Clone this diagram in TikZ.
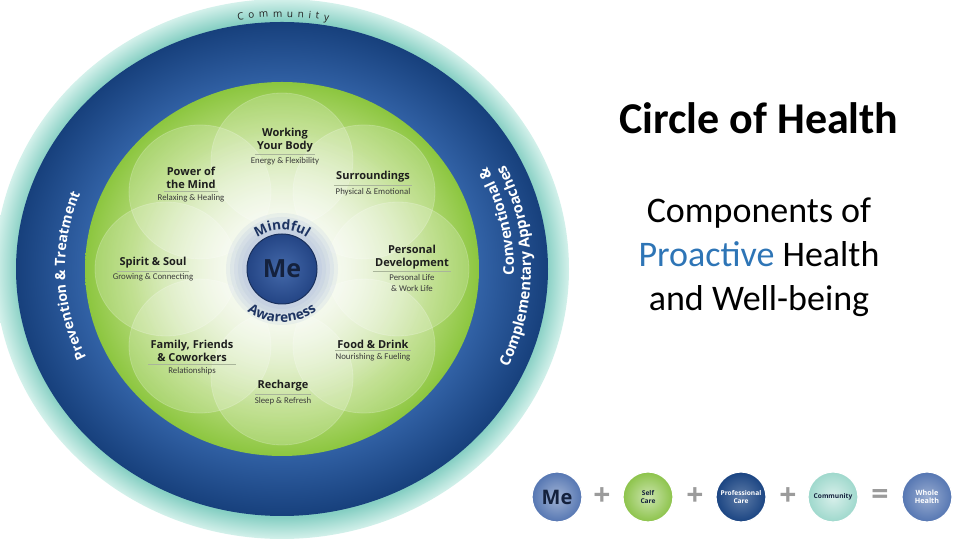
\documentclass[tikz,border=0pt]{standalone}
\usepackage{fontspec}
\setmainfont{Open Sans}
\newfontfamily\calib{Carlito}
\usepackage{xcolor}
\usepackage{tikz}
\usetikzlibrary{positioning,decorations.text,fadings}
\definecolor{commin}{HTML}{86CFC3}
\definecolor{commout}{HTML}{D4F1EB}
\definecolor{ringin}{HTML}{3262A6}
\definecolor{ringout}{HTML}{17407C}
\definecolor{limec}{HTML}{8CC63F}
\definecolor{limem}{HTML}{B3D978}
\definecolor{limel}{HTML}{E2EFCC}
\definecolor{glowc}{HTML}{F2F7EA}
\definecolor{haloc}{HTML}{9FB3D8}
\definecolor{mec}{HTML}{244585}
\definecolor{mel}{HTML}{4469AA}
\definecolor{inkc}{HTML}{14213D}
\definecolor{navyc}{HTML}{1E3462}
\definecolor{headc}{HTML}{1E1E1E}
\definecolor{subc}{HTML}{3B3B3B}
\definecolor{sepc}{HTML}{A9B59A}
\definecolor{comtxt}{HTML}{222222}
\definecolor{proc}{HTML}{2E75B6}
\definecolor{opc}{HTML}{9B9B9B}
\definecolor{slatec}{HTML}{5576B2}
\definecolor{selfc}{HTML}{8CC34A}
\definecolor{profc}{HTML}{1A4482}
\definecolor{commc}{HTML}{9ED8CC}
\pgfdeclareradialshading{commsh}{\pgfpoint{0bp}{0bp}}{color(0bp)=(commin); color(23bp)=(commin); color(25bp)=(commout); color(50bp)=(commout)}
\pgfdeclareradialshading{ringsh}{\pgfpoint{0bp}{0bp}}{color(0bp)=(ringin); color(18.5bp)=(ringin); color(25bp)=(ringout); color(50bp)=(ringout)}
\pgfdeclareradialshading{greensh}{\pgfpoint{0bp}{0bp}}{color(0bp)=(glowc); color(8bp)=(limel); color(19bp)=(limem); color(25bp)=(limec); color(50bp)=(limec)}
\tikzfading[name=glowfade,inner color=transparent!0,outer color=transparent!100]
\tikzset{
  hd/.style={font=\bfseries\fontsize{5.5}{6.5}\selectfont,text=headc,align=center,inner sep=1pt},
  sb/.style={font=\calib\fontsize{4.4}{5.4}\selectfont,text=subc,align=center,inner sep=0.8pt},
  sepl/.style={draw=sepc,line width=0.3pt},
  petal/.style={fill=white,fill opacity=0.2,draw=white,draw opacity=0.2,line width=0.4pt},
  mecirc/.style={circle,minimum size=35pt,inner sep=0pt,inner color=mel,outer color=mec,draw=mec!70!black,line width=0.5pt,font=\bfseries\fontsize{12.5}{13}\selectfont,text=inkc},
  eqc/.style={circle,minimum size=25pt,inner sep=0pt,align=center,draw=white,line width=0.6pt},
  op/.style={font=\bfseries\fontsize{15}{15}\selectfont,text=opc,inner sep=0pt}
}
\newcommand{\pet}[4]{\node[hd] (#1) at (#2) {#3};
  \node[sb,below=0.5pt of #1] (#1s) {#4};
  \draw[sepl] (#1.south west) -- (#1.south east);}
\newcommand{\curv}[7]{\path[decorate,decoration={text along path,text align=#1,text={|#2|#3}}]
  (C) ++(#4:#6 and #7) arc[start angle=#4,end angle=#5,x radius=#6,y radius=#7];}

\begin{document}
\begin{tikzpicture}[x=0.5pt,y=0.5pt]
\useasboundingbox (0,0) rectangle (960,540);
\coordinate (C) at (282,271);
\shade[shading=commsh] (C) circle [x radius=287,y radius=270];
\shade[shading=ringsh] (C) circle [x radius=266,y radius=247];
\shade[shading=greensh] (C) circle [x radius=197,y radius=187];
\foreach \a in {0,45,...,315} \path[petal] (C) ++(\a:116 and 109) circle [x radius=71,y radius=67];
\fill[white,path fading=glowfade,fill opacity=0.85] (C) circle [x radius=150,y radius=140];
\foreach \r in {56,52,...,40} \fill[haloc,fill opacity=0.14] (C) circle (\r);
\node[mecirc] (me) at (C) {Me};
\curv{center}{\bfseries\fontsize{6.8}{7}\selectfont\color{navyc}}{Mindful}{142}{38}{42}{39}
\curv{center}{\bfseries\fontsize{6.8}{7}\selectfont\color{navyc}}{Awareness}{204}{336}{57}{53}
\pet{wyb}{285,400}{Working\\Your Body}{Energy \& Flexibility}
\pet{pom}{191,362}{Power of\\the Mind}{Relaxing \& Healing}
\pet{sur}{373,363}{Surroundings}{Physical \& Emotional}
\pet{sas}{153,277}{Spirit \& Soul}{Growing \& Connecting}
\pet{pd}{412,283}{Personal\\Development}{Personal Life\\\& Work Life}
\pet{fad}{373,196}{Food \& Drink}{Nourishing \& Fueling}
\pet{rec}{283,154}{Recharge}{Sleep \& Refresh}
\pet{ffc}{192,189}{Family, Friends\\\& Coworkers}{Relationships}
\curv{center}{\color{white}\bfseries\fontsize{7}{8}\selectfont}{Prevention {\&} Treatment}{212}{152}{217}{204}
\curv{right}{\color{white}\bfseries\fontsize{7.4}{8}\selectfont}{Conventional {\&}}{-25}{28}{232}{218}
\curv{right}{\color{white}\bfseries\fontsize{7.4}{8}\selectfont}{Complementary Approaches}{-40}{26.5}{249}{234}
\curv{fit to path}{\color{comtxt}\fontsize{5}{5.5}\selectfont}{C o m m u n i t y}{99.5}{80}{268}{252}
\node[font=\calib\bfseries\fontsize{22}{26}\selectfont] (title) at (759,422) {Circle of Health};
\node[font=\calib\fontsize{18}{22}\selectfont,align=center] (comp) at (759,283) {Components of\\{\color{proc}Proactive} Health\\and Well-being};
\node[eqc,inner color=slatec!55!white,outer color=slatec,font=\bfseries\fontsize{10}{10}\selectfont,text=inkc] (eme) at (557,43) {Me};
\node[op] (op1) at (602,43) {+};
\node[eqc,inner color=selfc!45!white,outer color=selfc,font=\bfseries\fontsize{3.3}{4}\selectfont,text=inkc] (eself) at (648,43) {Self\\Care};
\node[op] (op2) at (695,43) {+};
\node[eqc,inner color=profc!70!white,outer color=profc,font=\bfseries\fontsize{3.3}{4}\selectfont,text=white] (eprof) at (741,43) {Professional\\Care};
\node[op] (op3) at (788,43) {+};
\node[eqc,inner color=commc!40!white,outer color=commc,font=\bfseries\fontsize{3.3}{4}\selectfont,text=inkc] (ecomm) at (833,43) {Community};
\node[op] (opeq) at (880,43) {=};
\node[eqc,inner color=slatec!60!white,outer color=slatec,font=\bfseries\fontsize{3.6}{4.3}\selectfont,text=white] (ewhole) at (927,43) {Whole\\Health};
\end{tikzpicture}
\end{document}
